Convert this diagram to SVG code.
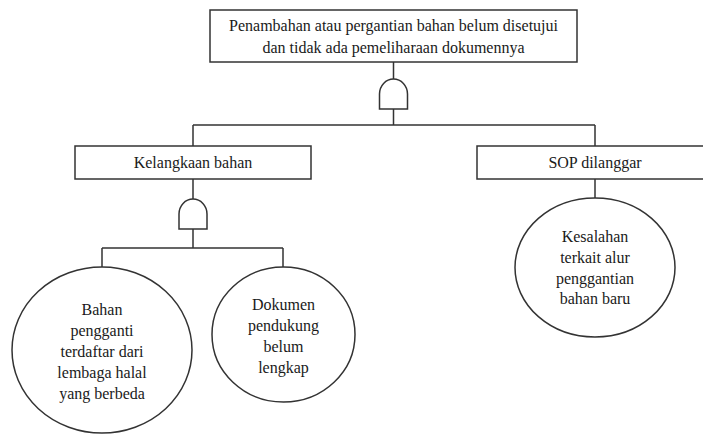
<svg xmlns="http://www.w3.org/2000/svg" width="703" height="434" viewBox="0 0 703 434">
<defs>
<path id="gate" d="M-14,15 V0 A14,15 0 0 1 14,0 V15 Z" fill="#fff" stroke="#333" stroke-width="1.5"/>
</defs>
<rect width="703" height="434" fill="#fff"/>
<g id="connectors" fill="none" stroke="#333" stroke-width="1.5">
<path d="M393.5,62 V80 M393.5,108 V125 M193,125 H595 M193,125 V146 M595,125 V146"/>
<path d="M193,179 V199 M193,229 V248 M102,248 H283 M102,248 V267 M283,248 V267"/>
<path d="M595,179 V198"/>
</g>
<g font-family="'Liberation Serif', 'Times New Roman', 'DejaVu Serif', serif" font-size="16" text-anchor="middle" fill="#1a1a1a">
<g id="top">
<rect x="210" y="10" width="367" height="52" fill="#fff" stroke="#333" stroke-width="1.5"/>
<text x="393.5" y="31">Penambahan atau pergantian bahan belum disetujui</text>
<text x="393.5" y="53">dan tidak ada pemeliharaan dokumennya</text>
</g>
<g id="gate1"><use href="#gate" x="393.5" y="94"/></g>
<g id="kelangkaan">
<rect x="75" y="146" width="236" height="33" fill="#fff" stroke="#333" stroke-width="1.5"/>
<text x="193" y="168">Kelangkaan bahan</text>
</g>
<g id="sop">
<rect x="477" y="146" width="236" height="33" fill="#fff" stroke="#333" stroke-width="1.5"/>
<text x="595" y="168">SOP dilanggar</text>
</g>
<g id="gate2"><use href="#gate" x="193" y="214"/></g>
<g id="bahan">
<ellipse cx="102" cy="350" rx="90" ry="83" fill="#fff" stroke="#333" stroke-width="1.5"/>
<text x="102" y="315">Bahan</text>
<text x="102" y="336">pengganti</text>
<text x="102" y="357">terdaftar dari</text>
<text x="102" y="378">lembaga halal</text>
<text x="102" y="399">yang berbeda</text>
</g>
<g id="dokumen">
<ellipse cx="283.5" cy="334.5" rx="71.5" ry="67.5" fill="#fff" stroke="#333" stroke-width="1.5"/>
<text x="283.5" y="310">Dokumen</text>
<text x="283.5" y="331">pendukung</text>
<text x="283.5" y="352">belum</text>
<text x="283.5" y="373">lengkap</text>
</g>
<g id="kesalahan">
<ellipse cx="595" cy="267.5" rx="80" ry="69.5" fill="#fff" stroke="#333" stroke-width="1.5"/>
<text x="595" y="242">Kesalahan</text>
<text x="595" y="263">terkait alur</text>
<text x="595" y="284">penggantian</text>
<text x="595" y="304">bahan baru</text>
</g>
</g>
</svg>
